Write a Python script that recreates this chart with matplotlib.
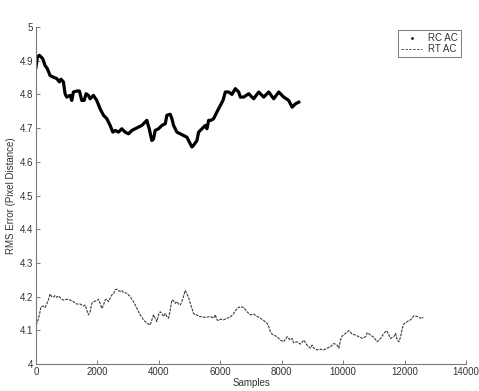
import matplotlib
matplotlib.use("Agg")
import matplotlib.pyplot as plt
from matplotlib.lines import Line2D

plt.rcParams['font.family'] = ['Liberation Sans', 'DejaVu Sans']

# RC AC run (sample index, RMS error)
rc_samples = [0, 43, 109, 217, 293, 370, 457, 565, 674, 761, 815, 891, 946, 1000,
              1109, 1163, 1217, 1326, 1413, 1489, 1565, 1630, 1707, 1761, 1870, 1978,
              2087, 2196, 2304, 2413, 2500, 2576, 2685, 2793, 2902, 3011, 3120, 3228,
              3337, 3446, 3554, 3609, 3685, 3772, 3826, 3880, 3989, 4098, 4207, 4261,
              4370, 4424, 4478, 4587, 4696, 4804, 4913, 5022, 5076, 5130, 5239, 5293,
              5402, 5511, 5565, 5620, 5696, 5783, 5891, 6000, 6087, 6163, 6272, 6380,
              6489, 6598, 6652, 6761, 6924, 7087, 7250, 7413, 7576, 7739, 7902, 8065,
              8228, 8337, 8446, 8554]
rc_error = [4.881, 4.911, 4.916, 4.906, 4.886, 4.876, 4.856, 4.851, 4.847, 4.837, 4.845,
            4.837, 4.802, 4.792, 4.797, 4.782, 4.807, 4.810, 4.810, 4.782, 4.782, 4.802,
            4.797, 4.787, 4.797, 4.782, 4.757, 4.738, 4.728, 4.708, 4.688, 4.693, 4.688,
            4.698, 4.688, 4.683, 4.693, 4.698, 4.703, 4.708, 4.718, 4.723, 4.698, 4.663,
            4.668, 4.693, 4.698, 4.708, 4.713, 4.738, 4.741, 4.728, 4.708, 4.688, 4.683,
            4.678, 4.673, 4.653, 4.644, 4.649, 4.663, 4.688, 4.698, 4.708, 4.698, 4.723,
            4.723, 4.728, 4.748, 4.767, 4.782, 4.807, 4.807, 4.800, 4.817, 4.807, 4.792,
            4.792, 4.802, 4.787, 4.807, 4.792, 4.807, 4.787, 4.807, 4.792, 4.782, 4.762,
            4.772, 4.777]

# RT AC run
rt_samples = [0, 43, 109, 163, 239, 293, 348, 402, 457, 511, 565, 620, 674, 728, 783,
              837, 891, 1000, 1109, 1217, 1326, 1435, 1543, 1598, 1652, 1707, 1761, 1815,
              1870, 1978, 2033, 2087, 2141, 2196, 2250, 2304, 2359, 2413, 2467, 2522,
              2576, 2630, 2685, 2739, 2793, 2848, 2957, 3065, 3174, 3283, 3391, 3500,
              3609, 3717, 3772, 3826, 3880, 3935, 3989, 4043, 4098, 4152, 4207, 4261,
              4315, 4370, 4424, 4478, 4533, 4587, 4641, 4696, 4750, 4804, 4859, 4913,
              4967, 5022, 5076, 5130, 5185, 5239, 5293, 5348, 5457, 5565, 5674, 5783,
              5837, 5891, 5946, 6000, 6109, 6217, 6326, 6435, 6543, 6652, 6761, 6870,
              6978, 7087, 7196, 7304, 7413, 7522, 7576, 7630, 7685, 7739, 7848, 7957,
              8065, 8174, 8283, 8337, 8391, 8500, 8609, 8717, 8826, 8935, 8989, 9043,
              9152, 9261, 9370, 9478, 9587, 9696, 9804, 9859, 9913, 9967, 10076, 10185,
              10293, 10402, 10511, 10620, 10728, 10783, 10891, 11000, 11109, 11217,
              11326, 11413, 11489, 11543, 11652, 11707, 11761, 11815, 11870, 11924,
              11978, 12087, 12196, 12304, 12413, 12522, 12576, 12609]
rt_error = [4.116, 4.123, 4.146, 4.170, 4.172, 4.168, 4.178, 4.190, 4.208, 4.200, 4.198,
            4.203, 4.198, 4.202, 4.198, 4.192, 4.190, 4.192, 4.190, 4.185, 4.178, 4.178,
            4.172, 4.175, 4.160, 4.146, 4.155, 4.180, 4.185, 4.188, 4.192, 4.180, 4.165,
            4.175, 4.190, 4.192, 4.185, 4.195, 4.205, 4.208, 4.220, 4.222, 4.218, 4.215,
            4.218, 4.212, 4.210, 4.200, 4.185, 4.165, 4.146, 4.131, 4.121, 4.116, 4.131,
            4.146, 4.136, 4.126, 4.146, 4.155, 4.150, 4.141, 4.150, 4.141, 4.136, 4.160,
            4.190, 4.188, 4.180, 4.185, 4.178, 4.175, 4.185, 4.202, 4.218, 4.208, 4.198,
            4.180, 4.165, 4.150, 4.146, 4.146, 4.141, 4.141, 4.139, 4.139, 4.141, 4.136,
            4.146, 4.131, 4.129, 4.133, 4.131, 4.136, 4.139, 4.150, 4.165, 4.170, 4.168,
            4.155, 4.146, 4.148, 4.141, 4.136, 4.129, 4.121, 4.111, 4.096, 4.089, 4.086,
            4.081, 4.071, 4.066, 4.081, 4.071, 4.076, 4.063, 4.066, 4.059, 4.071, 4.056,
            4.047, 4.056, 4.047, 4.042, 4.044, 4.042, 4.047, 4.051, 4.061, 4.056, 4.047,
            4.071, 4.083, 4.091, 4.099, 4.089, 4.086, 4.081, 4.076, 4.081, 4.093, 4.086,
            4.079, 4.066, 4.076, 4.091, 4.099, 4.086, 4.076, 4.081, 4.091, 4.071, 4.066,
            4.081, 4.106, 4.119, 4.126, 4.131, 4.143, 4.141, 4.136, 4.139, 4.136]

x_ticks = list(range(0, 14001, 2000))
y_ticks = [4.0, 4.1, 4.2, 4.3, 4.4, 4.5, 4.6, 4.7, 4.8, 4.9, 5.0]
y_labels = ['4', '4.1', '4.2', '4.3', '4.4', '4.5', '4.6', '4.7', '4.8', '4.9', '5']

fig = plt.figure(figsize=(4.79, 3.91), dpi=100)
ax = fig.add_axes([0.0752, 0.069, 0.8977, 0.862])

ax.plot(rc_samples, rc_error, color='black', lw=2.3, solid_joinstyle='round')
ax.plot(rt_samples, rt_error, color='#3a3a3a', lw=0.8, ls=(0, (2.5, 1)))

ax.set_xlim(0, 14000)
ax.set_ylim(4, 5)
ax.set_xticks(x_ticks)
ax.set_yticks(y_ticks)
ax.set_yticklabels(y_labels)

axis_grey = '#7a7a7a'
for side in ('top', 'right'):
    ax.spines[side].set_visible(False)
for side in ('left', 'bottom'):
    ax.spines[side].set_color(axis_grey)
    ax.spines[side].set_linewidth(0.8)
ax.tick_params(direction='in', length=3, width=0.7, color=axis_grey,
               labelsize=7, labelcolor='#333333', pad=2)

ax.set_xlabel('Samples', fontsize=7, color='#333333', labelpad=1)
ax.set_ylabel('RMS Error (Pixel Distance)', fontsize=7, color='#333333', labelpad=3)

handles = [Line2D([], [], ls='none', marker='.', markersize=1.8, color='black'),
           Line2D([], [], color='#555555', lw=0.7, ls=(0, (2.5, 1.5)))]
leg = ax.legend(handles, ['RC AC', 'RT AC'], loc='upper right',
                bbox_to_anchor=(0.988, 0.99), fontsize=7, fancybox=False,
                framealpha=1, edgecolor=axis_grey, handlelength=2.2,
                borderpad=0.3, labelspacing=0.1, handletextpad=0.6,
                borderaxespad=0)
leg.get_frame().set_linewidth(0.7)
for t in leg.get_texts():
    t.set_color('#333333')

fig.savefig('out.png', dpi=100)
